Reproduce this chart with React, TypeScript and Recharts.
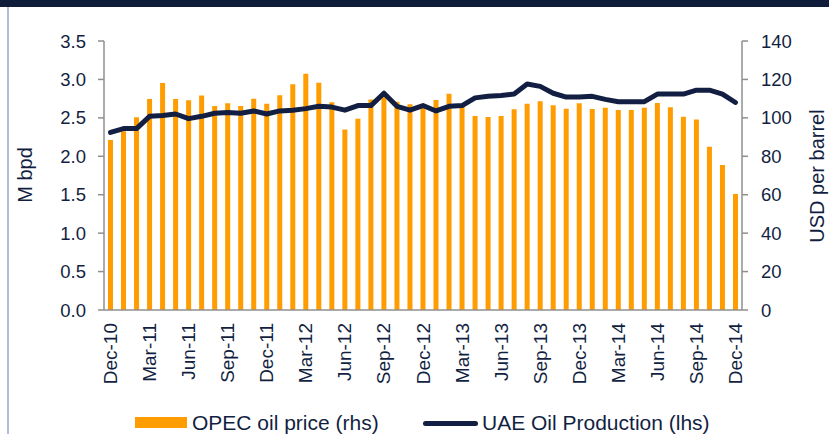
import React from "react";
import { ComposedChart, Bar, Line, XAxis, YAxis } from "recharts";

const months = [
  "Dec-10", "Jan-11", "Feb-11", "Mar-11", "Apr-11", "May-11", "Jun-11", "Jul-11", "Aug-11", "Sep-11", "Oct-11", "Nov-11",
  "Dec-11", "Jan-12", "Feb-12", "Mar-12", "Apr-12", "May-12", "Jun-12", "Jul-12", "Aug-12", "Sep-12", "Oct-12", "Nov-12",
  "Dec-12", "Jan-13", "Feb-13", "Mar-13", "Apr-13", "May-13", "Jun-13", "Jul-13", "Aug-13", "Sep-13", "Oct-13", "Nov-13",
  "Dec-13", "Jan-14", "Feb-14", "Mar-14", "Apr-14", "May-14", "Jun-14", "Jul-14", "Aug-14", "Sep-14", "Oct-14", "Nov-14",
  "Dec-14",
];

// OPEC basket price, USD per barrel (rhs)
const opecPrice = [
  88.5, 93, 100.3, 109.8, 118.1, 109.8, 109.1, 111.6, 106.2, 107.6, 106.2, 110,
  107.4, 111.8, 117.5, 123, 118.3, 108.1, 94, 99.6, 109.6, 110.7, 108.4, 107.1,
  105.8, 109.3, 112.6, 106.4, 101, 100.5, 101, 104.5, 107.4, 108.6, 106.5, 104.8,
  107.6, 104.6, 105.3, 104.1, 104.1, 105.3, 107.7, 105.5, 100.6, 99.2, 85, 75.5,
  60.4,
];

// UAE oil production, million bpd (lhs)
const uaeProduction = [
  2.31, 2.36, 2.36, 2.52, 2.53, 2.55, 2.49, 2.52, 2.56, 2.57, 2.56, 2.59,
  2.55, 2.59, 2.6, 2.62, 2.65, 2.64, 2.6, 2.66, 2.66, 2.82, 2.65, 2.6,
  2.66, 2.59, 2.65, 2.66, 2.76, 2.78, 2.79, 2.81, 2.94, 2.91, 2.82, 2.77,
  2.77, 2.78, 2.74, 2.71, 2.71, 2.71, 2.81, 2.81, 2.81, 2.86, 2.86, 2.81,
  2.7,
];

const leftTicks = [0, 0.5, 1, 1.5, 2, 2.5, 3, 3.5];
const rightTicks = [0, 20, 40, 60, 80, 100, 120, 140];

const data = months.map((m, i) => ({ month: m, price: opecPrice[i], prod: uaeProduction[i] }));

const NAVY = "#131f42";
const ORANGE = "#ff9c00";
const AXIS = "#8f8f8f";
const FONT = "'Liberation Sans', Arial, sans-serif";

const MonthTick = (props: any) => {
  const { x, y, payload } = props;
  return (
    <text
      x={x}
      y={y}
      transform={`rotate(-90 ${x} ${y})`}
      textAnchor="end"
      dominantBaseline="central"
      fill={NAVY}
      fontSize={19}
      fontFamily={FONT}
    >
      {payload.value}
    </text>
  );
};

export default function App() {
  return (
    <div style={{ position: "absolute", left: 0, top: 0, width: 829, height: 434, background: "#fff", overflow: "hidden", fontFamily: FONT }}>
      <div style={{ position: "absolute", left: 0, top: 0, width: 829, height: 7, background: "#0f1d3a" }} />
      <div style={{ position: "absolute", left: 7, top: 7, width: 2, height: 427, background: "#b3bbd8" }} />
      <ComposedChart width={829} height={434} data={data} margin={{ top: 41, right: 0, left: 0, bottom: 0 }} barCategoryGap={0}>
        <XAxis
          dataKey="month"
          interval={2}
          height={124}
          tickLine={false}
          tickSize={0}
          tickMargin={13}
          tick={<MonthTick />}
          axisLine={{ stroke: AXIS, strokeWidth: 1.5 }}
        />
        <YAxis
          yAxisId="left"
          width={104}
          domain={[0, 3.5]}
          ticks={leftTicks}
          tickFormatter={(v: number) => v.toFixed(1)}
          tick={{ fill: NAVY, fontSize: 18.5, fontFamily: FONT }}
          tickSize={6}
          tickMargin={12}
          tickLine={{ stroke: AXIS, strokeWidth: 1.5 }}
          axisLine={{ stroke: AXIS, strokeWidth: 1.5 }}
          label={{
            content: () => (
              <text x={25} y={175} transform="rotate(-90 25 175)" textAnchor="middle" dominantBaseline="central" fill={NAVY} fontSize={20} fontFamily={FONT}>
                M bpd
              </text>
            ),
          }}
        />
        <YAxis
          yAxisId="right"
          orientation="right"
          width={87}
          domain={[0, 140]}
          ticks={rightTicks}
          tick={{ fill: NAVY, fontSize: 18.5, fontFamily: FONT }}
          tickSize={6}
          tickMargin={13}
          tickLine={{ stroke: AXIS, strokeWidth: 1.5 }}
          axisLine={{ stroke: AXIS, strokeWidth: 1.5 }}
          label={{
            content: () => (
              <text x={817} y={176} transform="rotate(-90 817 176)" textAnchor="middle" dominantBaseline="central" fill={NAVY} fontSize={20} fontFamily={FONT}>
                USD per barrel
              </text>
            ),
          }}
        />
        <Bar yAxisId="right" dataKey="price" fill={ORANGE} barSize={5} isAnimationActive={false} />
        <Line
          yAxisId="left"
          type="linear"
          dataKey="prod"
          stroke={NAVY}
          strokeWidth={5}
          strokeLinejoin="round"
          strokeLinecap="round"
          dot={false}
          activeDot={false}
          isAnimationActive={false}
        />
      </ComposedChart>
      {/* legend */}
      <div style={{ position: "absolute", left: 135, top: 417, width: 52, height: 11, background: ORANGE }} />
      <div style={{ position: "absolute", left: 192, top: 409, fontSize: 21, lineHeight: "28px", color: NAVY, whiteSpace: "nowrap" }}>
        OPEC oil price (rhs)
      </div>
      <div style={{ position: "absolute", left: 423, top: 421, width: 55, height: 5, borderRadius: 3, background: NAVY }} />
      <div style={{ position: "absolute", left: 482, top: 409, fontSize: 21, lineHeight: "28px", color: NAVY, whiteSpace: "nowrap" }}>
        UAE Oil Production (lhs)
      </div>
    </div>
  );
}
